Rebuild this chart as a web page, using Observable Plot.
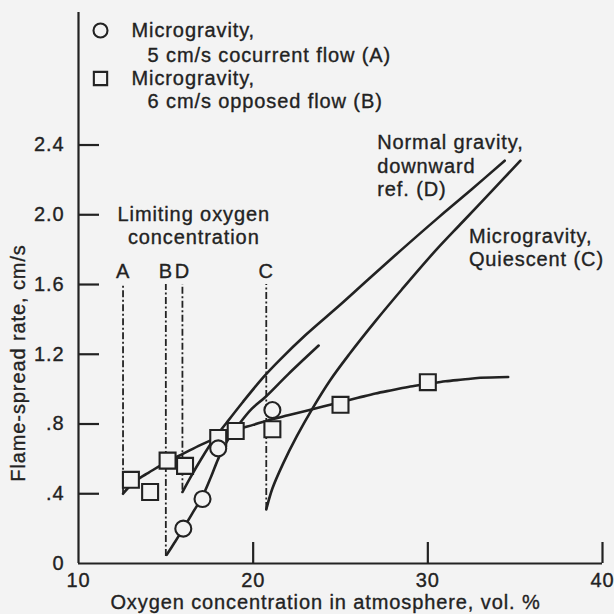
<!DOCTYPE html>
<html>
<head>
<meta charset="utf-8">
<script src="https://cdn.jsdelivr.net/npm/d3@7"></script>
<script src="https://cdn.jsdelivr.net/npm/@observablehq/plot@0.6"></script>
<style>
  html, body { margin: 0; padding: 0; background: #f3f3f3; }
  #chart svg { display: block; }
</style>
</head>
<body>
<div id="chart"></div>
<script>
// ---- tick values & labels ----
const xTicks = [10, 20, 30, 40];
const xTickLabels = ["10", "20", "30", "40"];
const yTicks = [0, 0.4, 0.8, 1.2, 1.6, 2.0, 2.4];
const yTickLabels = ["0", ".4", ".8", "1.2", "1.6", "2.0", "2.4"];

// ---- measured points ----
const circleX = [16.0, 17.1, 18.0, 21.1];          // Microgravity, 5 cm/s cocurrent flow (A)
const circleY = [0.20, 0.37, 0.66, 0.88];
const squareX = [13.0, 14.1, 15.1, 16.1, 18.0, 19.0, 21.1, 25.0, 30.0]; // 6 cm/s opposed flow (B)
const squareY = [0.48, 0.41, 0.59, 0.56, 0.72, 0.76, 0.77, 0.91, 1.04];

// ---- fitted curves ----
const curveAX = [15.05, 15.5, 16.0, 16.5, 17.1, 17.6, 18.0, 18.5, 19.2, 19.9, 20.7, 22.0, 23.75];
const curveAY = [0.05, 0.12, 0.20, 0.285, 0.385, 0.50, 0.60, 0.70, 0.80, 0.885, 0.955, 1.085, 1.25];
const curveBX = [12.55, 13, 13.5, 14, 15, 16, 17, 18, 19, 20, 21, 22, 23, 24, 25, 26, 27, 28, 29, 30, 31, 32, 33, 34.6];
const curveBY = [0.40, 0.45, 0.49, 0.52, 0.58, 0.63, 0.68, 0.725, 0.765, 0.795, 0.825, 0.85, 0.875, 0.90, 0.925, 0.95, 0.975, 0.995, 1.015, 1.03, 1.045, 1.055, 1.065, 1.07];
const curveDX = [15.95, 16.5, 17.0, 17.7, 18.5, 19.4, 20.6, 21.5, 23.0, 25.0, 26.6, 28.5, 30.5, 32.5, 34.4];
const curveDY = [0.41, 0.51, 0.595, 0.705, 0.81, 0.925, 1.07, 1.165, 1.31, 1.485, 1.63, 1.80, 1.975, 2.145, 2.31];
const curveCX = [20.75, 21.1, 21.7, 22.5, 23.4, 24.4, 25.5, 27.0, 28.5, 30.4, 32.0, 33.7, 35.3];
const curveCY = [0.31, 0.43, 0.57, 0.73, 0.89, 1.05, 1.20, 1.39, 1.57, 1.79, 1.96, 2.14, 2.31];

// ---- limiting oxygen concentrations ----
const limitNames = ["A", "B", "D", "C"];
const limitX = [12.55, 15.0, 15.95, 20.75];
const limitBottom = [0.40, 0.04, 0.42, 0.31];
const limitTop = 1.6;

// ---- texts ----
const legendTexts = ["Microgravity,", "5 cm/s cocurrent flow (A)", "Microgravity,", "6 cm/s opposed flow (B)"];
const xTitle = "Oxygen concentration in atmosphere, vol. %";
const yTitle = "Flame-spread rate, cm/s";

// ---- build tables ----
const zip = (xs, ys) => xs.map((x, i) => ({x, y: ys[i]}));
const circles = zip(circleX, circleY);
const squares = zip(squareX, squareY);
const curves = [
  ...zip(curveAX, curveAY).map(d => ({...d, s: "A"})),
  ...zip(curveBX, curveBY).map(d => ({...d, s: "B"})),
  ...zip(curveDX, curveDY).map(d => ({...d, s: "D"})),
  ...zip(curveCX, curveCY).map(d => ({...d, s: "C"}))
];
const limits = limitNames.map((n, i) => ({n, x: limitX[i], y1: limitBottom[i], y2: limitTop}));

const INK = "#222222";
const BG = "#f3f3f3";
const FONT = "'Liberation Sans', Arial, Helvetica, sans-serif";
const FS = 20;
const TS = {fontSize: FS, fill: INK, stroke: INK, strokeWidth: 0.35};

const W = 614, H = 614, mL = 78, mR = 12, mT = 12, mB = 51;
const yMax = 3.16;
const pxY = yMax / (H - mT - mB);          // data units per pixel (y)
const pxX = 30 / (W - mL - mR);            // data units per pixel (x)
const tickLen = 21;

const plot = Plot.plot({
  width: W, height: H,
  marginLeft: mL, marginRight: mR, marginTop: mT, marginBottom: mB,
  x: {domain: [10, 40], axis: null},
  y: {domain: [0, yMax], axis: null},
  style: {background: BG, fontFamily: FONT, color: INK, letterSpacing: "0.9px", overflow: "visible"},
  marks: [
    // axes
    Plot.ruleY([0], {x1: 10, x2: 40, stroke: INK, strokeWidth: 2.2}),
    Plot.ruleX([10], {y1: 0, y2: yMax, stroke: INK, strokeWidth: 2.2}),
    Plot.ruleX(xTicks.slice(1), {x: d => d, y1: 0, y2: tickLen * pxY, stroke: INK, strokeWidth: 2.2}),
    Plot.ruleY(yTicks.slice(1), {y: d => d, x1: 10, x2: 10 + tickLen * pxX, stroke: INK, strokeWidth: 2.2}),
    Plot.text(yTicks, {x: 10, y: d => d, text: (d, i) => yTickLabels[i], textAnchor: "end", dx: -14, ...TS}),
    Plot.text(xTicks, {x: d => d, y: 0, text: (d, i) => xTickLabels[i], dy: 17, ...TS}),
    Plot.text([xTitle], {frameAnchor: "bottom", dx: -15, dy: 45, ...TS}),
    Plot.text([yTitle], {x: 10, y: 1.15, dx: -60, rotate: -90, ...TS}),

    // limiting lines
    Plot.ruleX(limits, {x: "x", y1: "y1", y2: "y2", stroke: INK, strokeWidth: 1.8, strokeDasharray: "7,2.5,2,2.5"}),
    Plot.text(limits, {x: "x", y: limitTop, text: "n", dy: -13, ...TS}),
    Plot.text(["Limiting oxygen\nconcentration"], {x: 16.6, y: 1.94, lineHeight: 1.15, ...TS}),

    // curves
    Plot.line(curves, {x: "x", y: "y", z: "s", stroke: INK, strokeWidth: 2.6, curve: "catmull-rom"}),
    Plot.text(["Normal gravity,\ndownward\nref. (D)"], {x: 27.1, y: 2.285, textAnchor: "start", lineHeight: 1.17, ...TS}),
    Plot.text(["Microgravity,\nQuiescent (C)"], {x: 32.35, y: 1.815, textAnchor: "start", lineHeight: 1.17, ...TS}),

    // points
    Plot.dot(squares, {x: "x", y: "y", symbol: "square", r: 9, fill: BG, stroke: INK, strokeWidth: 2.1}),
    Plot.dot(circles, {x: "x", y: "y", r: 8, fill: BG, stroke: INK, strokeWidth: 2.1}),

    // legend
    Plot.dot([0], {frameAnchor: "top-left", dx: 22, dy: 18, r: 7, fill: BG, stroke: INK, strokeWidth: 2.1}),
    Plot.dot([0], {frameAnchor: "top-left", dx: 22, dy: 66, symbol: "square", r: 7.5, fill: BG, stroke: INK, strokeWidth: 2.1}),
    Plot.text([legendTexts[0]], {frameAnchor: "top-left", dx: 53, dy: 18, textAnchor: "start", lineAnchor: "middle", ...TS}),
    Plot.text([legendTexts[1]], {frameAnchor: "top-left", dx: 69, dy: 43, textAnchor: "start", lineAnchor: "middle", ...TS}),
    Plot.text([legendTexts[2]], {frameAnchor: "top-left", dx: 53, dy: 66, textAnchor: "start", lineAnchor: "middle", ...TS}),
    Plot.text([legendTexts[3]], {frameAnchor: "top-left", dx: 69, dy: 89, textAnchor: "start", lineAnchor: "middle", ...TS})
  ]
});
document.getElementById("chart").appendChild(plot);
</script>
</body>
</html>
